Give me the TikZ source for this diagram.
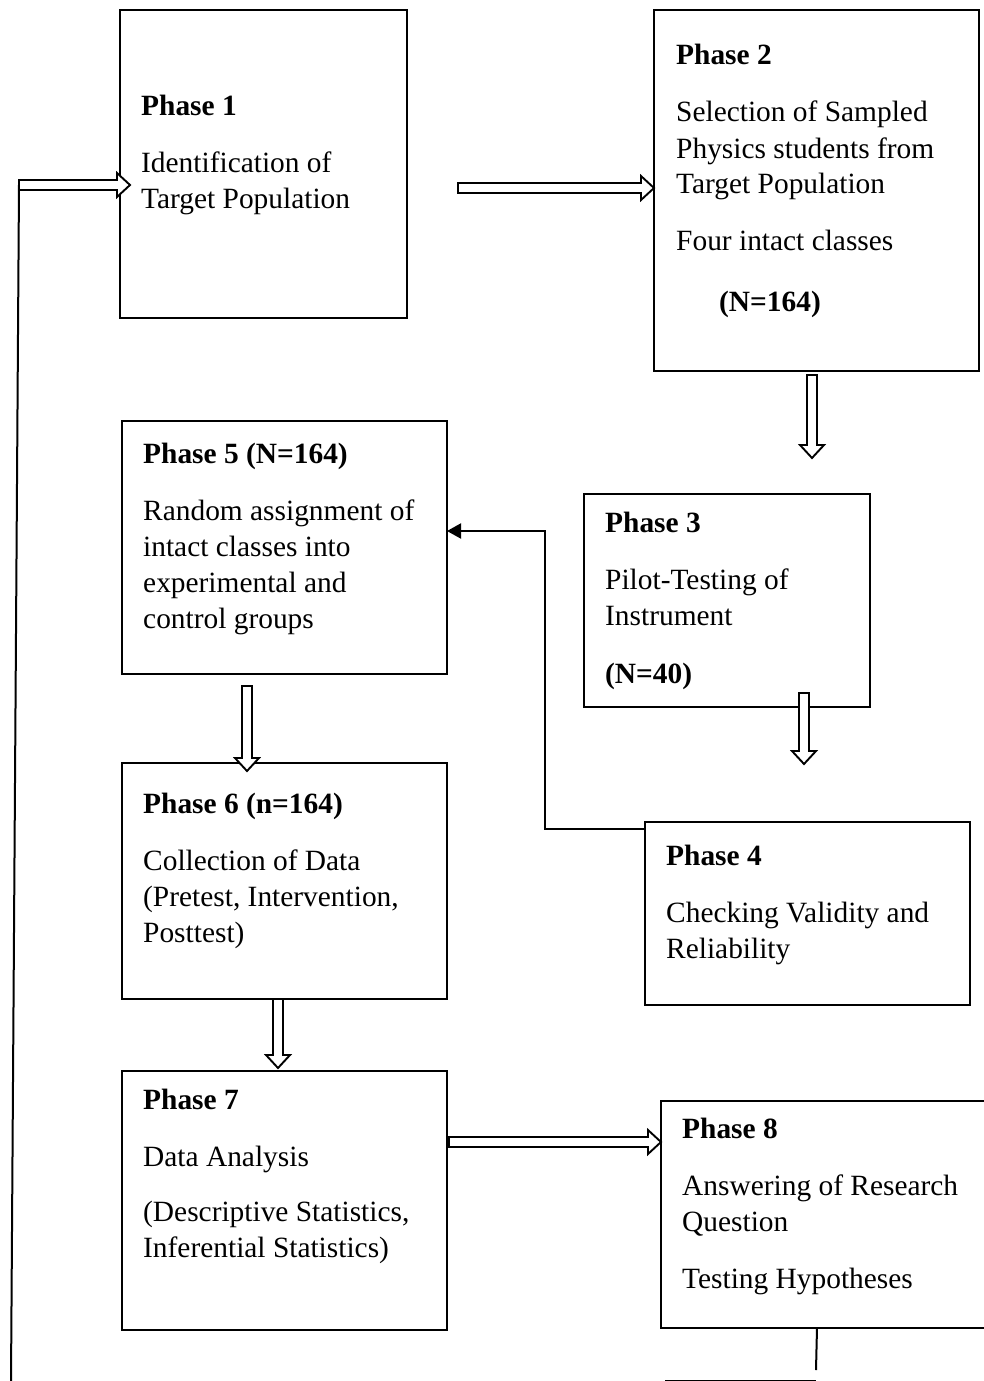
\documentclass[tikz,border=0pt]{standalone}
\usepackage{fontspec}
\setmainfont{Liberation Serif}
\usetikzlibrary{arrows.meta,calc}

\tikzset{
  box/.style={draw, line width=2.2pt, inner sep=0pt, outer sep=0pt, anchor=north west},
  txt/.style={anchor=base west, inner sep=0pt, font=\fontsize{29.4pt}{36pt}\selectfont},
  link/.style={line width=2pt},
}

% outlined block arrow from #1 to #2
\newcommand{\hollowarrow}[2]{%
  \path[draw, fill=white, line width=1.9pt, line join=miter]
    let \p1=#1, \p2=#2, \n1={atan2(\y2-\y1,\x2-\x1)}, \n2={veclen(\x2-\x1,\y2-\y1)} in
    [shift={(\p1)}, rotate=\n1]
    (0pt,-5pt) -- (\n2-13pt,-5pt) -- (\n2-13pt,-12pt) -- (\n2,0pt)
    -- (\n2-13pt,12pt) -- (\n2-13pt,5pt) -- (0pt,5pt) -- cycle;}

\begin{document}
\begin{tikzpicture}[x=1pt,y=-1pt]
    \useasboundingbox (0,0) rectangle (983,1381);
    % Boxes
    \foreach \n/\x/\y/\w/\h in {1/120/10/287/308, 2/654/10/325/361,
                                3/584/494/286/213, 4/645/822/325/183,
                                5/122/421/325/253, 6/122/763/325/236,
                                7/122/1071/325/259, 8/661/1101/345/227}{
        \node[box, minimum width=\w pt, minimum height=\h pt] (p\n) at (\x,\y) {};
    }
    % Texts
    \node[txt] (t1) at (141,115) {\begin{tabular}[t]{@{}l@{}}\textbf{Phase 1}\\[21pt]
        Identification of\\ Target Population\end{tabular}};
    \node[txt] (t2) at (676,65) {\begin{tabular}[t]{@{}l@{}}\textbf{Phase 2}\\[21pt]
        Selection of Sampled\\ Physics students from\\ Target Population\\[21pt]
        Four intact classes\\[25pt] \hspace*{43pt}\textbf{(N=164)}\end{tabular}};
    \node[txt] (t3) at (605,532) {\begin{tabular}[t]{@{}l@{}}\textbf{Phase 3}\\[21pt]
        Pilot-Testing of\\ Instrument\\[22pt] \textbf{(N=40)}\end{tabular}};
    \node[txt] (t4) at (666,865) {\begin{tabular}[t]{@{}l@{}}\textbf{Phase 4}\\[21pt]
        Checking Validity and\\ Reliability\end{tabular}};
    \node[txt] (t5) at (143,463) {\begin{tabular}[t]{@{}l@{}}\textbf{Phase 5 (N=164)}\\[21pt]
        Random assignment of\\ intact classes into\\ experimental and\\ control groups\end{tabular}};
    \node[txt] (t6) at (143,813) {\begin{tabular}[t]{@{}l@{}}\textbf{Phase 6 (n=164)}\\[21pt]
        Collection of Data\\ (Pretest, Intervention,\\ Posttest)\end{tabular}};
    \node[txt] (t7) at (143,1109) {\begin{tabular}[t]{@{}l@{}}\textbf{Phase 7}\\[21pt]
        Data Analysis\\[19pt] (Descriptive Statistics,\\ Inferential Statistics)\end{tabular}};
    \node[txt] (t8) at (682,1138) {\begin{tabular}[t]{@{}l@{}}\textbf{Phase 8}\\[21pt]
        Answering of Research\\ Question\\[21pt] Testing Hypotheses\end{tabular}};
    % Free ends
    \coordinate (fb) at (19,185);
    \coordinate (fbend) at (130,185);
    \coordinate (low) at (11,1381);
    \coordinate (a12) at (458,188);
    \coordinate (a23) at (812,375);
    \coordinate (a23e) at (812,458);
    \coordinate (a34) at (804,693);
    \coordinate (a34e) at (804,764);
    \coordinate (a56) at (247,686);
    \coordinate (a56e) at (247,771);
    \coordinate (a67e) at (278,1068);
    \coordinate (a78) at (449,1142);
    \coordinate (bend) at (545,531);
    \coordinate (drop) at (816,1370);
    \coordinate (floor) at (665,1381.3);
    % Feedback line
    \draw[link] (low) -- (fb);
    \draw[link] (p8.south -| 817,0) -- (drop);
    \draw[link] (floor) -- (floor -| drop);
    % Connectors
    \hollowarrow{(fb)}{(fbend)}
    \hollowarrow{(a12)}{(a12 -| p2.west)}
    \hollowarrow{(a23)}{(a23e)}
    \hollowarrow{(a34)}{(a34e)}
    \hollowarrow{(a56)}{(a56e)}
    \hollowarrow{(p6.south -| a67e)}{(a67e)}
    \hollowarrow{(a78)}{(a78 -| p8.west)}
    \draw[link, -{Triangle[length=14pt, width=15pt]}]
        ($(p4.north west)+(0,7)$) -| (bend) -- (bend -| p5.east);
\end{tikzpicture}
\end{document}
